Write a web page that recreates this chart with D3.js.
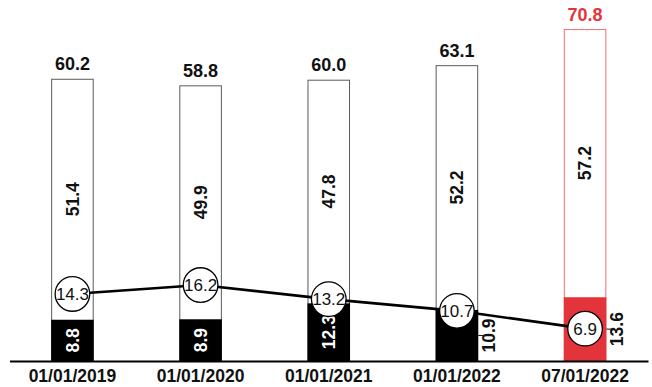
<!DOCTYPE html>
<html>
<head>
<meta charset="utf-8">
<script src="https://cdn.jsdelivr.net/npm/d3@7/dist/d3.min.js"></script>
<style>
  html, body { margin: 0; padding: 0; background: #fff; }
  svg { display: block; font-family: "Liberation Sans", Arial, sans-serif; }
</style>
</head>
<body>
<svg id="chart" width="652" height="387"></svg>
<script>
// Reporting dates
const dates = ["01/01/2019", "01/01/2020", "01/01/2021", "01/01/2022", "07/01/2022"];
// Lower (filled) segment of each bar
const lowerValues = [8.8, 8.9, 12.3, 10.9, 13.6];
// Upper (outlined) segment of each bar
const upperValues = [51.4, 49.9, 47.8, 52.2, 57.2];
// Bar totals printed above each bar
const totals = [60.2, 58.8, 60.0, 63.1, 70.8];
// Ratio shown in circles along the line
const ratioValues = [14.3, 16.2, 13.2, 10.7, 6.9];

const RED = "#e3343c";
const svg = d3.select("#chart");
const baseY = 361;

const x = d3.scaleBand()
  .domain(dates)
  .range([9.5, 648])
  .paddingInner(0.668)
  .paddingOuter(0.325);

const y = d3.scaleLinear().domain([0, 77]).range([baseY, 0]);

const rows = dates.map((d, i) => ({
  date: d, lower: lowerValues[i], upper: upperValues[i],
  total: totals[i], ratio: ratioValues[i], last: i === dates.length - 1
}));

const cx = d => x(d.date) + x.bandwidth() / 2;
const fmt = d3.format(".1f");

// Outlined full bars
svg.append("g").selectAll("rect").data(rows).join("rect")
  .attr("x", d => x(d.date) + 0.5)
  .attr("y", d => y(d.total) + 0.5)
  .attr("width", x.bandwidth() - 1)
  .attr("height", d => y(0) - y(d.total) - 0.5)
  .attr("fill", "#fff")
  .attr("stroke", d => d.last ? "#ef6d73" : "#5a5a5a")
  .attr("stroke-width", 1);

// Filled lower segments
svg.append("g").selectAll("rect").data(rows).join("rect")
  .attr("x", d => x(d.date))
  .attr("y", d => y(d.lower))
  .attr("width", x.bandwidth())
  .attr("height", d => y(0) - y(d.lower))
  .attr("fill", d => d.last ? RED : "#000");

// Totals above bars
svg.append("g").selectAll("text").data(rows).join("text")
  .attr("x", cx)
  .attr("y", d => y(d.total) - 8.5)
  .attr("text-anchor", "middle")
  .attr("font-size", 18)
  .attr("font-weight", 700)
  .attr("fill", d => d.last ? RED : "#111")
  .text(d => fmt(d.total));

// Upper segment labels, rotated
svg.append("g").selectAll("text").data(rows).join("text")
  .attr("transform", d => `translate(${cx(d)},${(y(d.lower) + y(d.total)) / 2}) rotate(-90)`)
  .attr("text-anchor", "middle")
  .attr("dy", "0.35em")
  .attr("font-size", 17.5)
  .attr("font-weight", 700)
  .attr("fill", "#111")
  .text(d => fmt(d.upper));

// Lower segment labels: inside the bar, or beside it when the ratio marker sits inside the segment
const outside = d => d.ratio < d.lower;
const lowerLabels = svg.append("g");
lowerLabels.selectAll("line").data(rows.filter(outside)).join("line")
  .attr("x1", d => x(d.date) + x.bandwidth())
  .attr("x2", d => x(d.date) + x.bandwidth() + 5)
  .attr("y1", d => (y(0) + y(d.lower)) / 2)
  .attr("y2", d => (y(0) + y(d.lower)) / 2)
  .attr("stroke", "#111")
  .attr("stroke-width", 1);
lowerLabels.selectAll("text").data(rows).join("text")
  .attr("transform", d => {
    const px = outside(d) ? x(d.date) + x.bandwidth() + 11 : cx(d);
    return `translate(${px},${(y(0) + y(d.lower)) / 2}) rotate(-90)`;
  })
  .attr("text-anchor", "middle")
  .attr("dy", "0.35em")
  .attr("font-size", 17.5)
  .attr("font-weight", 700)
  .attr("fill", d => outside(d) ? "#111" : "#fff")
  .text(d => fmt(d.lower));

// Ratio line
svg.append("path")
  .datum(rows)
  .attr("fill", "none")
  .attr("stroke", "#000")
  .attr("stroke-width", 2.6)
  .attr("d", d3.line().x(cx).y(d => y(d.ratio)));

// Ratio markers
const marks = svg.append("g").selectAll("g").data(rows).join("g")
  .attr("transform", d => `translate(${cx(d)},${y(d.ratio)})`);
marks.append("circle")
  .attr("r", 17.3)
  .attr("fill", "#fff")
  .attr("stroke", "#000")
  .attr("stroke-width", 1.3);
marks.append("text")
  .attr("text-anchor", "middle")
  .attr("dy", "0.36em")
  .attr("font-size", 17)
  .attr("fill", "#111")
  .text(d => fmt(d.ratio));

// Category axis
const axis = svg.append("g")
  .attr("transform", `translate(0,${baseY})`)
  .call(d3.axisBottom(x).tickSize(0).tickPadding(9));
axis.select(".domain").attr("stroke", "#000").attr("stroke-width", 2);
axis.selectAll("text")
  .attr("font-family", "'Liberation Sans', Arial, sans-serif")
  .attr("font-size", 17.5)
  .attr("font-weight", 700)
  .attr("fill", "#111");
</script>
</body>
</html>
